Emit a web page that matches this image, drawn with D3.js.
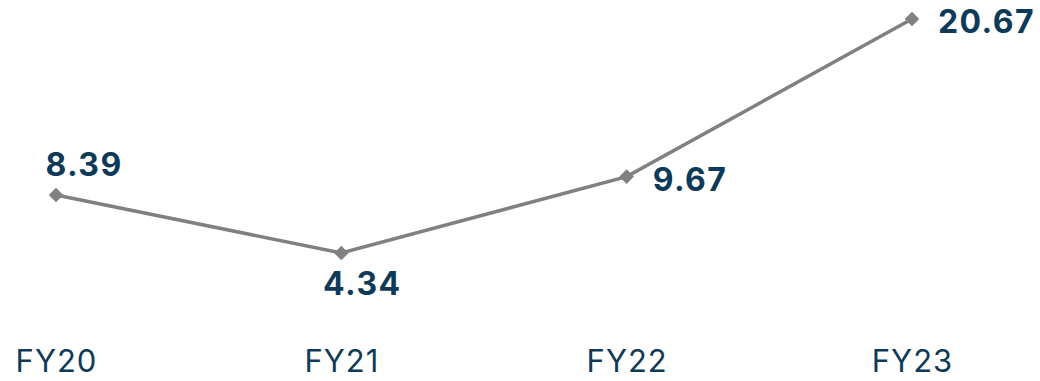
<!DOCTYPE html>
<html><head><meta charset="utf-8">
<script src="https://cdn.jsdelivr.net/npm/d3@7"></script>
<style>body{margin:0;background:#fff}svg{display:block}</style>
</head><body>
<svg id="c" width="1040" height="381"></svg>
<script>
const categories = ["FY20", "FY21", "FY22", "FY23"];
const values = [8.39, 4.34, 9.67, 20.67];
const labelPlacement = ["above", "below", "right", "right"];

const svg = d3.select("#c");
const x = d3.scalePoint().domain(categories).range([56, 912]);
const y = d3.scaleLinear().domain([4.34, 20.67]).range([253, 19]);
const data = categories.map((c, i) => ({c, v: values[i], p: labelPlacement[i]}));

svg.append("path")
  .datum(data)
  .attr("fill", "none")
  .attr("stroke", "#808080")
  .attr("stroke-width", 3.5)
  .attr("d", d3.line().x(d => x(d.c)).y(d => y(d.v)));

svg.selectAll(".m").data(data).enter().append("path")
  .attr("d", d3.symbol().type(d3.symbolDiamond2).size(135))
  .attr("transform", d => `translate(${x(d.c)},${y(d.v)})`)
  .attr("fill", "#808080");

const lbl = svg.selectAll(".l").data(data).enter().append("text")
  .attr("font-family", "Inter, 'Liberation Sans', sans-serif")
  .attr("font-weight", 700)
  .attr("font-size", 32)
  .attr("letter-spacing", 1.4)
  .attr("fill", "#0f3a57")
  .text(d => d.v.toFixed(2));
lbl.each(function(d){
  const s = d3.select(this), px = x(d.c), py = y(d.v);
  if (d.p === "above") s.attr("x", px + 28).attr("y", py - 19).attr("text-anchor", "middle");
  else if (d.p === "below") s.attr("x", px + 21).attr("y", py + 42).attr("text-anchor", "middle");
  else s.attr("x", px + 26).attr("y", py + 14).attr("text-anchor", "start");
});

const axis = d3.axisBottom(x).tickSize(0).tickPadding(0);
const g = svg.append("g").attr("transform", "translate(0,349)").call(axis);
g.select(".domain").remove();
g.selectAll("text")
  .attr("font-family", "Inter, 'Liberation Sans', sans-serif")
  .attr("font-size", 31)
  .attr("font-weight", 400)
  .attr("letter-spacing", 1)
  .attr("fill", "#0f3a57")
  .attr("dy", "0.75em");
</script>
</body></html>
